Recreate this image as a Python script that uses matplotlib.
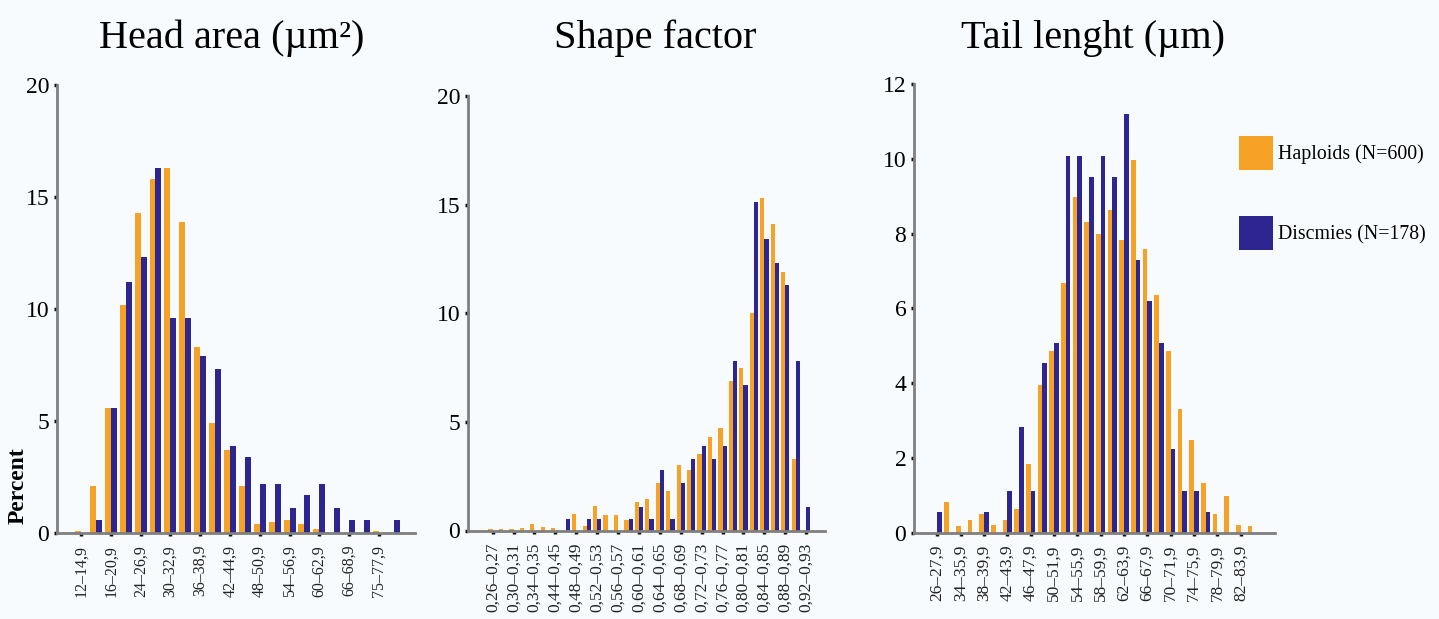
import matplotlib
matplotlib.use("Agg")
import matplotlib.pyplot as plt
from matplotlib.patches import Patch
import numpy as np

# ---------------- data ----------------
series_names = ["Haploids (N=600)", "Discmies (N=178)"]
colors = ["#F5A226", "#2E2690"]

titles = ["Head area (µm²)", "Shape factor", "Tail lenght (µm)"]

head_ticklabels = ["12–14,9", "16–20,9", "24–26,9", "30–32,9", "36–38,9", "42–44,9",
                   "48–50,9", "54–56,9", "60–62,9", "66–68,9", "75–77,9"]
head_haploids = [0.1, 2.1, 5.6, 10.2, 14.3, 15.8, 16.3, 13.9, 8.3, 4.9, 3.7,
                 2.1, 0.4, 0.5, 0.6, 0.4, 0.2, 0.0, 0.0, 0.0, 0.1, 0.0]
head_discmies = [0.0, 0.6, 5.6, 11.2, 12.3, 16.3, 9.6, 9.6, 7.9, 7.3, 3.9,
                 3.4, 2.2, 2.2, 1.1, 1.7, 2.2, 1.1, 0.6, 0.6, 0.0, 0.6]

shape_ticklabels = ["0,26–0,27", "0,30–0,31", "0,34–0,35", "0,44–0,45", "0,48–0,49",
                    "0,52–0,53", "0,56–0,57", "0,60–0,61", "0,64–0,65", "0,68–0,69",
                    "0,72–0,73", "0,76–0,77", "0,80–0,81", "0,84–0,85", "0,88–0,89",
                    "0,92–0,93"]
shape_haploids = [0.05, 0.05, 0.05, 0.1, 0.3, 0.15, 0.1, 0.0, 0.75, 0.2, 1.15,
                  0.7, 0.7, 0.5, 1.3, 1.45, 2.2, 1.8, 3.0, 2.8, 3.5, 4.3,
                  4.7, 6.9, 7.5, 10.0, 15.3, 14.1, 11.9, 3.3, 0.0]
shape_discmies = [0.0, 0.0, 0.0, 0.0, 0.0, 0.0, 0.0, 0.55, 0.0, 0.55, 0.55,
                  0.0, 0.0, 0.55, 1.1, 0.55, 2.8, 0.55, 2.2, 3.3, 3.9, 3.3,
                  3.9, 7.8, 6.7, 15.1, 13.4, 12.3, 11.3, 7.8, 1.1]

tail_ticklabels = ["26–27,9", "34–35,9", "38–39,9", "42–43,9", "46–47,9", "50–51,9",
                   "54–55,9", "58–59,9", "62–63,9", "66–67,9", "70–71,9", "74–75,9",
                   "78–79,9", "82–83,9"]
tail_haploids = [0.0, 0.83, 0.18, 0.34, 0.49, 0.2, 0.34, 0.63, 1.83, 3.95, 4.86,
                 6.69, 8.98, 8.32, 8.0, 8.63, 7.83, 9.96, 7.6, 6.35, 4.87, 3.32,
                 2.48, 1.34, 0.49, 0.99, 0.2, 0.18]
tail_discmies = [0.56, 0.0, 0.0, 0.0, 0.56, 0.0, 1.11, 2.83, 1.11, 4.55, 5.08,
                 10.07, 10.07, 9.52, 10.07, 9.52, 11.21, 7.29, 6.2, 5.08, 2.23, 1.11,
                 1.11, 0.56, 0.0, 0.0, 0.0, 0.0]

y_ticks = [[0, 5, 10, 15, 20], [0, 5, 10, 15, 20], [0, 2, 4, 6, 8, 10, 12]]

# ---------------- figure ----------------
W, H = 1439, 619
fig = plt.figure(figsize=(W / 100, H / 100), dpi=100)
fig.patch.set_facecolor("#F8FBFD")

SERIF = ["Liberation Serif", "DejaVu Serif"]

def px_rect(x0, x1, ytop, ybot):
    return [x0 / W, 1 - ybot / H, (x1 - x0) / W, (ybot - ytop) / H]

panels = [
    dict(rect=px_rect(57, 415, 85, 533), xlim=(-1.61, 22.42), ylim=(0, 20),
         hap=head_haploids, dis=head_discmies, labels=head_ticklabels, xfs=11.5),
    dict(rect=px_rect(468, 825, 96, 530.5), xlim=(-2.36, 31.8), ylim=(0, 20),
         hap=shape_haploids, dis=shape_discmies, labels=shape_ticklabels, xfs=12.5),
    dict(rect=px_rect(914, 1275, 84, 532.7), xlim=(-1.99, 28.94), ylim=(0, 12),
         hap=tail_haploids, dis=tail_discmies, labels=tail_ticklabels, xfs=12.5),
]

bw = 0.4
for i, p in enumerate(panels):
    ax = fig.add_axes(p["rect"])
    ax.set_facecolor("none")
    x = np.arange(len(p["hap"]))
    ax.bar(x - bw / 2, p["hap"], width=bw, color=colors[0], linewidth=0, zorder=2)
    ax.bar(x + bw / 2, p["dis"], width=bw, color=colors[1], linewidth=0, zorder=2)
    ax.set_xlim(*p["xlim"])
    ax.set_ylim(*p["ylim"])
    for s in ["top", "right"]:
        ax.spines[s].set_visible(False)
    for s in ["left", "bottom"]:
        ax.spines[s].set_color("#7F7F7F")
        ax.spines[s].set_linewidth(2.0)
        ax.spines[s].set_zorder(3)
    ax.set_yticks(y_ticks[i])
    ax.set_yticklabels([str(v) for v in y_ticks[i]], fontfamily=SERIF, fontsize=17)
    ax.set_xticks(np.arange(0, 2 * len(p["labels"]), 2))
    ax.set_xticklabels(p["labels"], rotation=90, fontfamily=SERIF, fontsize=p["xfs"],
                       color="#222222")
    ax.tick_params(axis="y", length=2.5, width=2.5, color="#111111", pad=3)
    ax.tick_params(axis="x", length=2.5, width=2.5, color="#111111", pad=6)
    for t in ax.get_xticklines() + ax.get_yticklines():
        t.set_zorder(4)

# titles
title_x = [232, 655, 1093]
for t, xc in zip(titles, title_x):
    fig.text(xc / W, 1 - 48 / H, t, ha="center", va="baseline",
             fontfamily=SERIF, fontsize=29)

# y-axis label
fig.text(18 / W, 1 - 486 / H, "Percent", rotation=90, ha="center", va="center",
         fontfamily=SERIF, fontsize=17, fontweight="bold")

# legend
handles = [Patch(facecolor=c, edgecolor="none") for c in colors]
fig.legend(handles, series_names, loc="upper left",
           bbox_to_anchor=(1225 / W, 1 - 122 / H), frameon=False,
           prop=dict(family=SERIF, size=14.3),
           handlelength=1.74, handleheight=2.26, handletextpad=0.25,
           labelspacing=2.32, borderpad=0.2)

fig.savefig("out.png", dpi=100, facecolor=fig.get_facecolor())
